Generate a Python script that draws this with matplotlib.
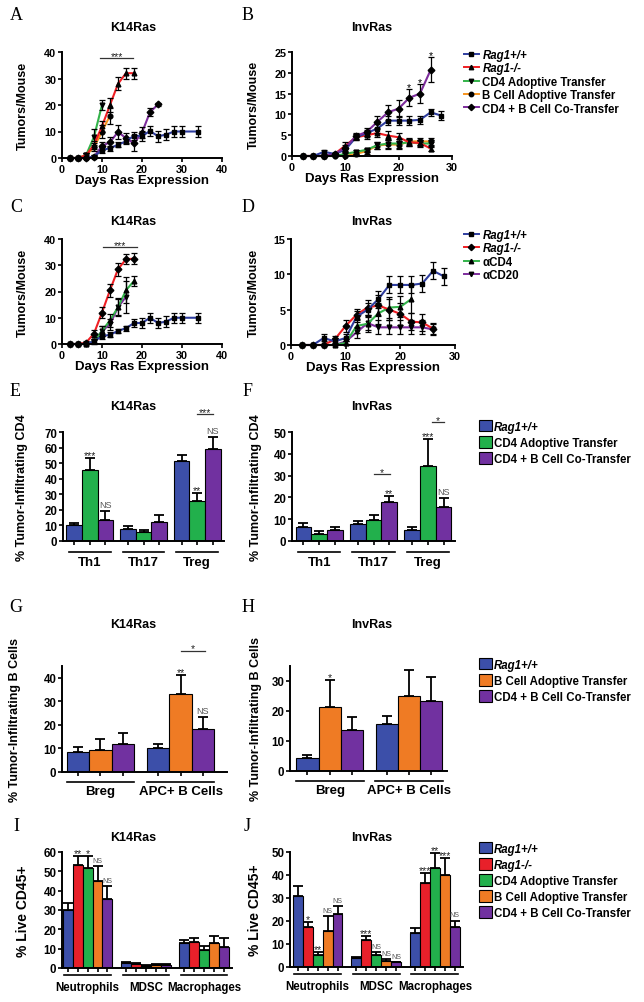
import numpy as np
import matplotlib
matplotlib.use('Agg')
import matplotlib.pyplot as plt
import matplotlib.transforms as mtrans
from matplotlib.lines import Line2D
from matplotlib.patches import Patch

plt.rcParams['font.family'] = ['Liberation Sans', 'DejaVu Sans']
plt.rcParams['font.weight'] = 'bold'
plt.rcParams['axes.labelweight'] = 'bold'

# ---------------- data ----------------
# A: K14Ras transfer time course
A_rag_days = [2, 4, 6, 8, 10, 12, 14, 16, 18, 20, 22, 24, 26, 28, 30, 34]
A_rag = [0, 0, 0, 0.5, 3, 3.7, 5, 6.3, 8.4, 8.3, 10.2, 8.2, 8.8, 10, 10, 10]
A_rag_err = [0, 0, 0, 0.5, 1, 1, 1, 1, 1.5, 2, 2, 2, 2, 2, 2, 2]
A_ko_days = [2, 4, 6, 8, 10, 12, 14, 16, 18]
A_ko = [0, 0, 1, 5, 12, 20, 28, 32, 32]
A_ko_err = [0, 0.5, 1, 1.5, 2, 2.5, 2.5, 2, 2]
A_cd4_days = [2, 4, 6, 8, 10]
A_cd4 = [0, 0, 1, 8, 20]
A_cd4_err = [0, 0.5, 1, 3, 2]
A_bc_days = [2, 4, 6, 8, 10, 12]
A_bc = [0, 0, 1, 4, 10, 16]
A_bc_err = [0, 0.3, 0.8, 1.5, 2.5, 3]
A_co_days = [2, 4, 6, 8, 10, 12, 14, 16, 18, 20, 22, 24]
A_co = [0, 0, 0, 0.5, 4.5, 6, 9.8, 7.5, 5.5, 9.6, 17.3, 20.2]
A_co_err = [0, 0, 0, 0.5, 1.5, 2, 2.5, 2, 3, 2, 1.5, 0.5]

# B: InvRas transfer time course
B_rag_days = [2, 4, 6, 8, 10, 12, 14, 16, 18, 20, 22, 24, 26, 28]
B_rag = [0, 0, 1, 0.5, 1.5, 4.5, 5.5, 6.6, 8.5, 8.5, 8.5, 8.7, 10.5, 9.7]
B_rag_err = [0, 0, 0.5, 0.3, 0.5, 0.7, 0.8, 1, 1, 1, 1, 1, 0.8, 1]
B_days = [2, 4, 6, 8, 10, 12, 14, 16, 18, 20, 22, 24, 26]
B_ko = [0, 0, 0, 0.5, 2.5, 4.5, 5, 5.5, 4.9, 4.5, 3.3, 3.1, 1.8]
B_ko_err = [0, 0, 0, 0.3, 0.8, 0.7, 0.8, 1, 1, 1, 0.8, 0.8, 0.6]
B_cd4 = [0, 0, 0, 0, 0.5, 1, 1.5, 2.6, 3, 3, 3.3, 3, 3]
B_cd4_err = [0, 0, 0, 0, 0.3, 0.5, 0.5, 0.8, 1, 1, 0.8, 0.8, 0.8]
B_bc = [0, 0, 0, 0, 0, 0.5, 1.2, 2.5, 2.8, 2.7, 3.5, 3.5, 3.5]
B_bc_err = [0, 0, 0, 0, 0, 0.4, 0.6, 0.8, 1, 1, 0.8, 0.8, 0.8]
B_co = [0, 0, 0, 0.5, 2, 4.8, 5.8, 8.2, 10.5, 11.4, 14, 15, 20.7]
B_co_err = [0, 0, 0, 0.3, 0.7, 0.8, 1, 1.5, 1.8, 2, 2, 2.3, 3]
B_star_days = [22, 24, 26]

# C: K14Ras depletion time course
C_rag_days = A_rag_days
C_rag = [0, 0, 0, 1, 3, 3.5, 5, 6, 8, 8, 10, 8, 8.5, 10, 10, 10]
C_rag_err = [0, 0, 0, 0.5, 1, 1, 0.8, 1, 1.5, 2, 2, 2, 2, 2, 2, 2]
C_ko_days = [2, 4, 6, 8, 10, 12, 14, 16, 18]
C_ko = [0, 0, 0.5, 4, 12, 20.5, 28.5, 32.3, 32.5]
C_ko_err = [0, 0, 0.5, 1.5, 2, 2.5, 2.5, 2, 2]
C_acd4_days = [2, 4, 6, 8, 10, 12, 14, 16, 18]
C_acd4 = [0, 0, 0, 1, 5, 9, 14, 20.5, 24]
C_acd4_err = [0, 0, 0, 1, 2, 2.5, 3, 5, 2]
C_acd20_days = [2, 4, 6, 8, 10, 12, 14, 16]
C_acd20 = [0, 0, 0, 1, 5, 7.5, 14, 18]
C_acd20_err = [0, 0, 0, 1, 2, 2, 3.5, 6]

# D: InvRas depletion time course
D_rag_days = [2, 4, 6, 8, 10, 12, 14, 16, 18, 20, 22, 24, 26, 28]
D_rag = [0, 0, 1, 0.5, 1, 4, 5, 6.5, 8.5, 8.5, 8.5, 8.7, 10.5, 9.7]
D_rag_err = [0, 0, 0.5, 0.5, 0.5, 0.8, 1, 1.2, 1.2, 1.2, 1.2, 1.2, 1.2, 1.2]
D_ko_days = [2, 4, 6, 8, 10, 12, 14, 16, 18, 20, 22, 24, 26]
D_ko = [0, 0, 0, 0.8, 2.7, 4.3, 5.3, 5.6, 5, 4.4, 3.3, 3.2, 2.3]
D_ko_err = [0, 0, 0, 0.5, 0.8, 0.8, 1, 1.5, 1.5, 1.5, 1.2, 1.2, 0.8]
D_acd4_days = [2, 4, 6, 8, 10, 12, 14, 16, 18, 20, 22]
D_acd4 = [0, 0, 0, 0, 0.3, 2.7, 3, 4.5, 5.3, 5.4, 6.5]
D_acd4_err = [0, 0, 0, 0, 0.3, 1, 1.2, 1.5, 1.5, 1.5, 2]
D_acd20_days = D_ko_days
D_acd20 = [0, 0, 0, 0, 0.5, 1.8, 3.1, 2.5, 2.5, 2.5, 2.5, 2.5, 2.2]
D_acd20_err = [0, 0, 0, 0, 0.3, 0.8, 1, 1, 1, 1, 1, 1, 0.8]

# E/F: CD4 subsets
CD4_groups = ['Th1', 'Th17', 'Treg']
E_rag = [10, 8, 51.5]
E_rag_err = [1.5, 1.5, 4]
E_cd4 = [45.5, 5.5, 26]
E_cd4_err = [8, 1.5, 5]
E_co = [13.5, 12.5, 59]
E_co_err = [5.5, 4.5, 7.5]
E_cd4_sig = ['***', '', '**']
E_co_sig = ['NS', '', 'NS']
F_rag = [6.5, 7.8, 5.2]
F_rag_err = [1.8, 1.5, 1.2]
F_cd4 = [3.2, 9.6, 34.5]
F_cd4_err = [1.5, 2.5, 12.5]
F_co = [5, 17.7, 15.7]
F_co_err = [1.5, 3, 4]
F_cd4_sig = ['', '', '***']
F_co_sig = ['', '**', 'NS']

# G/H: B cell subsets
B_groups = ['Breg', 'APC+ B Cells']
G_rag = [8.5, 10.2]
G_rag_err = [2, 1.8]
G_bc = [9.5, 33.3]
G_bc_err = [4.3, 8]
G_co = [12, 18.3]
G_co_err = [4.6, 5]
G_bc_sig = ['', '**']
G_co_sig = ['', 'NS']
H_rag = [4.3, 15.8]
H_rag_err = [1, 2.5]
H_bc = [21.5, 25]
H_bc_err = [8.7, 8.7]
H_co = [13.6, 23.2]
H_co_err = [4.5, 8]
H_bc_sig = ['*', '']
H_co_sig = ['', '']

# I/J: myeloid cells
M_groups = ['Neutrophils', 'MDSC', 'Macrophages']
I_rag = [30, 2.5, 12.8]
I_rag_err = [3.5, 0.5, 1.8]
I_ko = [53.5, 2.3, 13.5]
I_ko_err = [4.5, 0.5, 2]
I_cd4 = [51.5, 1, 9.5]
I_cd4_err = [6.5, 0.3, 1.7]
I_bc = [44.8, 1.5, 13]
I_bc_err = [8, 0.4, 3.5]
I_co = [35.5, 1.5, 11]
I_co_err = [7, 0.4, 4.3]
I_sig = [['', '', ''], ['**', '', ''], ['*', '', ''], ['NS', '', ''], ['NS', '', '']]
J_rag = [30.8, 3.8, 14.6]
J_rag_err = [4.5, 0.4, 2.4]
J_ko = [17.6, 11.6, 36.5]
J_ko_err = [2, 2, 4.5]
J_cd4 = [5.3, 5.4, 43]
J_cd4_err = [1.2, 1, 6.5]
J_bc = [15.6, 2.8, 40]
J_bc_err = [6.5, 0.7, 7.2]
J_co = [23.2, 2, 17.2]
J_co_err = [3.5, 0.3, 3]
J_sig = [['', '', ''], ['*', '***', '***'], ['**', 'NS', '**'], ['NS', 'NS', '***'], ['NS', 'NS', 'NS']]

# colours
L_BLUE, L_RED, L_GREEN, L_ORANGE, L_PURPLE = '#2e3d9f', '#f01e23', '#33b34a', '#f7941d', '#7d2c9c'
BLUE, RED, GREEN, ORANGE, PURPLE = '#3c4fa9', '#e8202a', '#22b04c', '#ef7b24', '#7131a0'

W, H = 644, 1003
fig = plt.figure(figsize=(W / 100, H / 100), dpi=100)


def px_axes(x0, y0, x1, y1):
    return fig.add_axes([x0 / W, 1 - y1 / H, (x1 - x0) / W, (y1 - y0) / H])


def style(ax, fs):
    for s in ['top', 'right']:
        ax.spines[s].set_visible(False)
    for s in ['left', 'bottom']:
        ax.spines[s].set_linewidth(1.4)
    ax.tick_params(width=1.2, length=3, labelsize=fs, pad=1)


def ftext(x, y, s, **kw):
    fig.text(x / W, 1 - y / H, s, **kw)


def line_panel(ax, series, xlim, ylim, xticks, yticks):
    style(ax, 7.8)
    for days, vals, errs, color, marker in series:
        ax.plot(days, vals, color=color, lw=1.5, marker=marker, ms=3.4,
                mfc='k', mec='k', zorder=2, clip_on=False)
        ax.errorbar(days, vals, yerr=errs, fmt='none', ecolor='k',
                    elinewidth=0.9, capsize=2.2, capthick=0.9, zorder=3, clip_on=False)
    ax.set_xlim(*xlim)
    ax.set_ylim(*ylim)
    ax.set_xticks(xticks)
    ax.set_yticks(yticks)
    ax.set_xlabel('Days Ras Expression', fontsize=9.5, labelpad=0)
    ax.set_ylabel('Tumors/Mouse', fontsize=9)


def bar_panel(ax, groups, series, width, xlim, ylim, yticks, ylabel, ylab_x,
              line_dy, text_dy, half, gfs, lfs=9, ns_fs=6.5):
    style(ax, 8.3)
    n = len(series)
    x = np.arange(len(groups))
    centers = []
    for i, (vals, errs, color, sig) in enumerate(series):
        xs = x + (i - (n - 1) / 2) * width
        centers.extend(xs)
        ax.bar(xs, vals, width, color=color, edgecolor='k', linewidth=0.8, zorder=2)
        ax.errorbar(xs, vals, yerr=[np.zeros(len(errs)), errs], fmt='none', ecolor='k',
                    elinewidth=1.3, capsize=3.5, capthick=1.3, zorder=1, clip_on=False)
        for xi, v, e, s in zip(xs, vals, errs, sig):
            if not s:
                continue
            if s == 'NS':
                ax.annotate(s, (xi, v + e), xytext=(0, 1.5), textcoords='offset points',
                            ha='center', va='bottom', fontsize=ns_fs, color='#555555',
                            fontweight='normal', annotation_clip=False)
            else:
                ax.annotate(s, (xi, v + e), xytext=(0, -1.5), textcoords='offset points',
                            ha='center', va='bottom', fontsize=7.5, color='#222222',
                            fontweight='normal', annotation_clip=False)
    ax.set_xticks(sorted(centers))
    ax.set_xticklabels([])
    ax.tick_params(axis='x', length=3)
    ax.set_xlim(*xlim)
    ax.set_ylim(*ylim)
    ax.set_yticks(yticks)
    ax.set_ylabel(ylabel, fontsize=lfs)
    ax.yaxis.set_label_coords(ylab_x, 0.5)
    base = mtrans.blended_transform_factory(ax.transData, ax.transAxes)
    tl = base + mtrans.ScaledTranslation(0, -line_dy / 100, fig.dpi_scale_trans)
    tt = base + mtrans.ScaledTranslation(0, -text_dy / 100, fig.dpi_scale_trans)
    for xi, g in zip(x, groups):
        ax.plot([xi - half, xi + half], [0, 0], color='k', lw=1.2, transform=tl, clip_on=False)
        ax.text(xi, 0, g, transform=tt, ha='center', va='center', fontsize=gfs)
    return x


def sig_line(ax, x0, x1, y, s):
    ax.plot([x0, x1], [y, y], color='#333333', lw=0.9, clip_on=False)
    ax.annotate(s, ((x0 + x1) / 2, y), xytext=(0, -2), textcoords='offset points',
                ha='center', va='bottom', fontsize=7.5, fontweight='normal',
                color='#222222', annotation_clip=False)


def italic_rag(leg):
    for t in leg.get_texts():
        if t.get_text().startswith('Rag1'):
            t.set_fontstyle('italic')


LEG_FS = 8.3

# ---------------- A ----------------
axA = px_axes(62, 53, 222, 159)
line_panel(axA, [
    (A_cd4_days, A_cd4, A_cd4_err, L_GREEN, 'v'),
    (A_bc_days, A_bc, A_bc_err, L_ORANGE, 'o'),
    (A_ko_days, A_ko, A_ko_err, L_RED, '^'),
    (A_co_days, A_co, A_co_err, L_PURPLE, 'D'),
    (A_rag_days, A_rag, A_rag_err, L_BLUE, 's'),
], (0, 40), (0, 40), [0, 10, 20, 30, 40], [0, 10, 20, 30, 40])
axA.yaxis.set_label_coords(-0.21, 0.5)
sig_line(axA, 9.5, 17.8, 37.7, '***')

# ---------------- B ----------------
axB = px_axes(292, 53, 452, 157)
line_panel(axB, [
    (B_days, B_bc, B_bc_err, L_ORANGE, 'o'),
    (B_days, B_cd4, B_cd4_err, L_GREEN, 'v'),
    (B_days, B_ko, B_ko_err, L_RED, '^'),
    (B_rag_days, B_rag, B_rag_err, L_BLUE, 's'),
    (B_days, B_co, B_co_err, L_PURPLE, 'D'),
], (0, 30), (0, 25), [0, 10, 20, 30], [0, 5, 10, 15, 20, 25])
axB.yaxis.set_label_coords(-0.2, 0.5)
for d in B_star_days:
    i = B_days.index(d)
    axB.annotate('*', (d, B_co[i] + B_co_err[i]), xytext=(0, -2), textcoords='offset points',
                 ha='center', va='bottom', fontsize=7.5, fontweight='normal',
                 annotation_clip=False)

labelsAB = ['Rag1+/+', 'Rag1-/-', 'CD4 Adoptive Transfer', 'B Cell Adoptive Transfer',
            'CD4 + B Cell Co-Transfer']
handlesAB = [Line2D([0], [0], color=c, lw=1.4, marker=m, ms=3.2, mfc='k', mec='k')
             for c, m in zip([L_BLUE, L_RED, L_GREEN, L_ORANGE, L_PURPLE], ['s', '^', 'v', 'o', 'D'])]
leg = fig.legend(handlesAB, labelsAB, loc='upper left', bbox_to_anchor=(464 / W, 1 - 50 / H),
                 frameon=False, fontsize=LEG_FS, handlelength=1.3, handletextpad=0.3,
                 labelspacing=0.12, borderpad=0, borderaxespad=0)
italic_rag(leg)

# ---------------- C ----------------
axC = px_axes(62, 240, 222, 345)
line_panel(axC, [
    (C_acd20_days, C_acd20, C_acd20_err, L_PURPLE, 'v'),
    (C_acd4_days, C_acd4, C_acd4_err, L_GREEN, '^'),
    (C_ko_days, C_ko, C_ko_err, L_RED, 'D'),
    (C_rag_days, C_rag, C_rag_err, L_BLUE, 's'),
], (0, 40), (0, 40), [0, 10, 20, 30, 40], [0, 10, 20, 30, 40])
axC.yaxis.set_label_coords(-0.21, 0.5)
sig_line(axC, 10.3, 18.7, 37, '***')

# ---------------- D ----------------
axD = px_axes(291, 240, 455, 346)
line_panel(axD, [
    (D_acd20_days, D_acd20, D_acd20_err, L_PURPLE, 'v'),
    (D_acd4_days, D_acd4, D_acd4_err, L_GREEN, '^'),
    (D_ko_days, D_ko, D_ko_err, L_RED, 'D'),
    (D_rag_days, D_rag, D_rag_err, L_BLUE, 's'),
], (0, 30), (0, 15), [0, 10, 20, 30], [0, 5, 10, 15])
axD.yaxis.set_label_coords(-0.19, 0.5)
labelsCD = ['Rag1+/+', 'Rag1-/-', 'αCD4', 'αCD20']
handlesCD = [Line2D([0], [0], color=c, lw=1.4, marker=m, ms=3.2, mfc='k', mec='k')
             for c, m in zip([L_BLUE, L_RED, L_GREEN, L_PURPLE], ['s', 'D', '^', 'v'])]
leg = fig.legend(handlesCD, labelsCD, loc='upper left', bbox_to_anchor=(464 / W, 1 - 230 / H),
                 frameon=False, fontsize=LEG_FS, handlelength=1.3, handletextpad=0.3,
                 labelspacing=0.12, borderpad=0, borderaxespad=0)
italic_rag(leg)

# ---------------- E / F ----------------
axE = px_axes(63, 433, 224, 542)
bar_panel(axE, CD4_groups, [
    (E_rag, E_rag_err, BLUE, ['', '', '']),
    (E_cd4, E_cd4_err, GREEN, E_cd4_sig),
    (E_co, E_co_err, PURPLE, E_co_sig),
], 0.29, (-0.5, 2.5), (0, 70), range(0, 71, 10), '% Tumor-Infiltrating CD4', -0.22,
    11, 21, 0.39, 9.5)
sig_line(axE, 2.0, 2.29, 81.6, '***')

axF = px_axes(292, 433, 455, 542)
bar_panel(axF, CD4_groups, [
    (F_rag, F_rag_err, BLUE, ['', '', '']),
    (F_cd4, F_cd4_err, GREEN, F_cd4_sig),
    (F_co, F_co_err, PURPLE, F_co_sig),
], 0.29, (-0.5, 2.5), (0, 50), range(0, 51, 10), '% Tumor-Infiltrating CD4', -0.185,
    11, 21, 0.39, 9.5)
sig_line(axF, 1.0, 1.3, 30.7, '*')
sig_line(axF, 2.07, 2.3, 54.5, '*')

bar_leg = dict(loc='upper left', frameon=False, fontsize=LEG_FS, handlelength=1.15,
               handleheight=1.15, handletextpad=0.15, labelspacing=0.3, borderpad=0,
               borderaxespad=0)
leg = fig.legend([Patch(facecolor=c, edgecolor='k', lw=0.8) for c in [BLUE, GREEN, PURPLE]],
                 ['Rag1+/+', 'CD4 Adoptive Transfer', 'CD4 + B Cell Co-Transfer'],
                 bbox_to_anchor=(479 / W, 1 - 421 / H), **bar_leg)
italic_rag(leg)

# ---------------- G / H ----------------
axG = px_axes(62, 667, 227, 773)
bar_panel(axG, B_groups, [
    (G_rag, G_rag_err, BLUE, ['', '']),
    (G_bc, G_bc_err, ORANGE, G_bc_sig),
    (G_co, G_co_err, PURPLE, G_co_sig),
], 0.28, (-0.48, 1.58), (0, 45), range(0, 41, 10), '% Tumor-Infiltrating B Cells', -0.25,
    10, 19, 0.42, 9.5)
sig_line(axG, 1.0, 1.3, 51.5, '*')

axH = px_axes(290, 667, 447, 772)
bar_panel(axH, B_groups, [
    (H_rag, H_rag_err, BLUE, ['', '']),
    (H_bc, H_bc_err, ORANGE, H_bc_sig),
    (H_co, H_co_err, PURPLE, H_co_sig),
], 0.28, (-0.5, 1.48), (0, 35), range(0, 31, 10), '% Tumor-Infiltrating B Cells', -0.18,
    10, 19, 0.43, 9.5)

leg = fig.legend([Patch(facecolor=c, edgecolor='k', lw=0.8) for c in [BLUE, ORANGE, PURPLE]],
                 ['Rag1+/+', 'B Cell Adoptive Transfer', 'CD4 + B Cell Co-Transfer'],
                 bbox_to_anchor=(479 / W, 1 - 659 / H), **bar_leg)
italic_rag(leg)

# ---------------- I / J ----------------
axI = px_axes(62, 853, 232, 969)
bar_panel(axI, M_groups, [
    (I_rag, I_rag_err, BLUE, I_sig[0]),
    (I_ko, I_ko_err, RED, I_sig[1]),
    (I_cd4, I_cd4_err, GREEN, I_sig[2]),
    (I_bc, I_bc_err, ORANGE, I_sig[3]),
    (I_co, I_co_err, PURPLE, I_sig[4]),
], 0.17, (-0.44, 2.48), (0, 60), range(0, 61, 10), '% Live CD45+', -0.19,
    7, 19, 0.4, 8.3, lfs=10, ns_fs=5)

axJ = px_axes(290, 853, 463, 968)
bar_panel(axJ, M_groups, [
    (J_rag, J_rag_err, BLUE, J_sig[0]),
    (J_ko, J_ko_err, RED, J_sig[1]),
    (J_cd4, J_cd4_err, GREEN, J_sig[2]),
    (J_bc, J_bc_err, ORANGE, J_sig[3]),
    (J_co, J_co_err, PURPLE, J_sig[4]),
], 0.17, (-0.47, 2.48), (0, 50), range(0, 51, 10), '% Live CD45+', -0.16,
    7, 19, 0.4, 8.3, lfs=10, ns_fs=5)

leg = fig.legend([Patch(facecolor=c, edgecolor='k', lw=0.8) for c in [BLUE, RED, GREEN, ORANGE, PURPLE]],
                 ['Rag1+/+', 'Rag1-/-', 'CD4 Adoptive Transfer', 'B Cell Adoptive Transfer',
                  'CD4 + B Cell Co-Transfer'],
                 bbox_to_anchor=(479 / W, 1 - 843 / H), **bar_leg)
italic_rag(leg)

# ---------------- titles and panel letters ----------------
for y in [28, 222, 407, 625, 838]:
    ftext(133, y, 'K14Ras', ha='center', va='center', fontsize=9)
    ftext(372, y, 'InvRas', ha='center', va='center', fontsize=9)

for (x, y, s) in [(16, 16, 'A'), (248, 16, 'B'), (16, 208, 'C'), (248, 208, 'D'),
                  (15, 392, 'E'), (248, 392, 'F'), (16, 608, 'G'), (248, 608, 'H'),
                  (16, 827, 'I'), (247, 827, 'J')]:
    ftext(x, y, s, ha='center', va='center', fontsize=13, fontweight='normal',
          family=['Liberation Serif', 'DejaVu Serif'])

fig.savefig('out.png', dpi=100)
